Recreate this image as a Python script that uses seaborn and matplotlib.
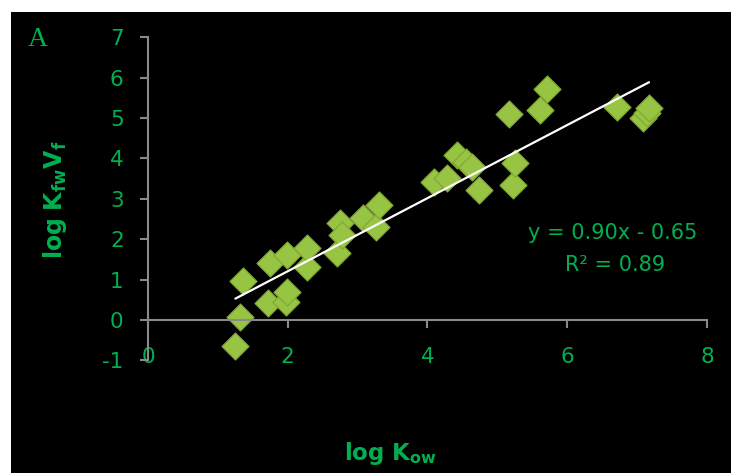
import matplotlib
matplotlib.use("Agg")
import matplotlib.pyplot as plt
from matplotlib.patches import Rectangle
import seaborn as sns
import pandas as pd

# ---- data ----
log_kow = [1.25, 1.31, 1.36, 1.72, 1.75, 1.98, 1.99, 1.99, 2.27, 2.27,
           2.70, 2.75, 2.77, 3.08, 3.27, 3.30, 4.09, 4.28, 4.42, 4.55,
           4.63, 4.73, 5.17, 5.23, 5.25, 5.61, 5.71, 6.71, 7.09, 7.14, 7.17]
log_kfwvf = [-0.64, 0.08, 0.97, 0.41, 1.41, 0.45, 0.70, 1.61, 1.32, 1.79,
             1.65, 2.39, 2.10, 2.52, 2.31, 2.85, 3.42, 3.51, 4.08, 3.92,
             3.78, 3.22, 5.10, 3.34, 3.88, 5.20, 5.71, 5.28, 4.99, 5.12, 5.24]
x_ticks = [0, 2, 4, 6, 8]
y_ticks = [-1, 0, 1, 2, 3, 4, 5, 6, 7]
equation_text = "y = 0.90x - 0.65"
r2_text = "R² = 0.89"
panel_label = "A"

df = pd.DataFrame({"log_kow": log_kow, "log_kfwvf": log_kfwvf})

sns.set_theme(style="white")
plt.rcParams["font.family"] = ["DejaVu Sans"]
plt.rcParams["mathtext.fontset"] = "dejavusans"

GREEN = "#00B050"
GREY = "#8a8a8a"

W, H = 731, 473
fig = plt.figure(figsize=(W / 100, H / 100), dpi=100)
fig.patch.set_facecolor("white")
fig.add_artist(Rectangle((11 / W, 0), 1 - 11 / W, 1 - 12 / H,
                         transform=fig.transFigure, facecolor="black",
                         edgecolor="none", zorder=-10))

ax = fig.add_axes([148 / W, 1 - 360.4 / H, (707 - 148) / W, (360.4 - 37.3) / H])
ax.set_facecolor("none")

sns.regplot(data=df, x="log_kow", y="log_kfwvf", ax=ax, ci=None, marker="D",
            scatter_kws=dict(s=190, facecolor="#98c444", edgecolor="#80a534",
                             linewidths=0.8, alpha=1),
            line_kws=dict(color="white", lw=1.6))

ax.set_xlim(0, 8)
ax.set_ylim(-1, 7)
ax.set_xticks(x_ticks)
ax.set_yticks(y_ticks)
ax.set_xticklabels([str(t) for t in x_ticks])
ax.set_yticklabels([str(t) for t in y_ticks])
ax.set_xlabel("")
ax.set_ylabel("")

for s in ["top", "right"]:
    ax.spines[s].set_visible(False)
ax.spines["left"].set_color(GREY)
ax.spines["bottom"].set_color(GREY)
ax.spines["left"].set_linewidth(1.5)
ax.spines["bottom"].set_linewidth(1.5)
ax.spines["bottom"].set_position(("data", 0))

ax.tick_params(axis="y", direction="out", length=5.5, width=1.5, color=GREY,
               labelcolor=GREEN, labelsize=15.5, pad=12, left=True)
ax.tick_params(axis="x", direction="out", length=5.5, width=1.5, color=GREY,
               labelcolor=GREEN, labelsize=15.5, pad=14, bottom=True)
ax.grid(False)

ax.text(613 / W, 1 - 233 / H, equation_text, transform=fig.transFigure,
        color=GREEN, fontsize=15, ha="center", va="center")
ax.text(615 / W, 1 - 265 / H, r2_text, transform=fig.transFigure,
        color=GREEN, fontsize=15, ha="center", va="center")

fig.text(38 / W, 1 - 40 / H, panel_label, color=GREEN, fontsize=20,
         family=["Liberation Serif", "DejaVu Serif"], ha="center", va="center")

fig.text(55 / W, 1 - 200 / H, r"$\mathbf{log\ K_{fw}V_{f}}$", rotation=90,
         color=GREEN, fontsize=17, ha="center", va="center")
fig.text(390 / W, 1 - 460 / H, r"$\mathbf{log\ K_{ow}}$",
         color=GREEN, fontsize=16.5, ha="center", va="baseline")

fig.savefig("out.png", dpi=100, facecolor=fig.get_facecolor())
